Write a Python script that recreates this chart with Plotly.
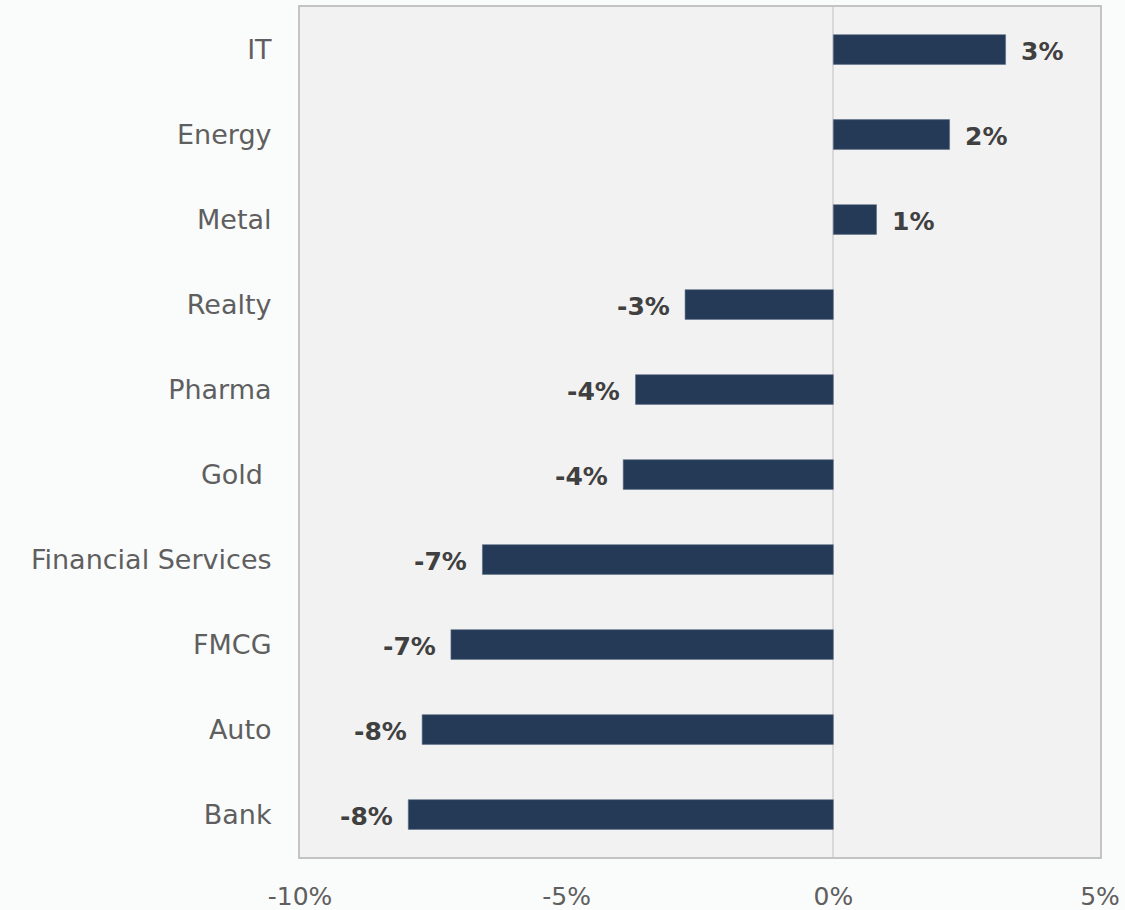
import plotly.graph_objects as go

categories = ["IT", "Energy", "Metal", "Realty", "Pharma", "Gold ", "Financial Services", "FMCG", "Auto", "Bank"]
values = [3.23, 2.18, 0.81, -2.78, -3.71, -3.94, -6.58, -7.17, -7.71, -7.97]
x_ticks = [-10, -5, 0, 5]
x_tick_labels = ["-10%", "-5%", "0%", "5%"]

labels = [f"{round(v):d}%" for v in values]

fig = go.Figure(go.Bar(
    x=values,
    y=categories,
    orientation="h",
    width=0.35,
    marker=dict(color="#243a56", line=dict(color="#5f7189", width=0.6)),
    hoverinfo="skip",
))

for cat, v, lab in zip(categories, values, labels):
    fig.add_annotation(
        x=v, y=cat, text=f"<b>{lab}</b>", showarrow=False,
        xanchor="left" if v >= 0 else "right",
        xshift=13 if v >= 0 else -13,
        yshift=-2,
        font=dict(family="DejaVu Sans", size=25, color="#404040"),
    )

fig.update_layout(
    width=1125, height=910,
    margin=dict(l=300, r=25, t=7, b=53),
    paper_bgcolor="#fafbfb",
    plot_bgcolor="#f2f2f2",
    showlegend=False,
)
fig.update_xaxes(
    range=[-10, 5], automargin=False,
    tickvals=x_ticks, ticktext=x_tick_labels,
    showgrid=False,
    zeroline=True, zerolinecolor="#d9d9d9", zerolinewidth=1.5,
    showline=True, mirror=True, linecolor="#c4c4c4", linewidth=2,
    ticks="outside", ticklen=16, tickcolor="rgba(0,0,0,0)",
    tickfont=dict(family="DejaVu Sans", size=25, color="#5f5f5f"),
)
fig.update_yaxes(
    categoryorder="array", categoryarray=categories[::-1], automargin=False,
    showgrid=False,
    showline=True, mirror=True, linecolor="#c4c4c4", linewidth=2,
    ticks="outside", ticklen=21, tickcolor="rgba(0,0,0,0)",
    tickfont=dict(family="DejaVu Sans", size=27, color="#5f5f5f"),
)

fig.write_html("out.html")
